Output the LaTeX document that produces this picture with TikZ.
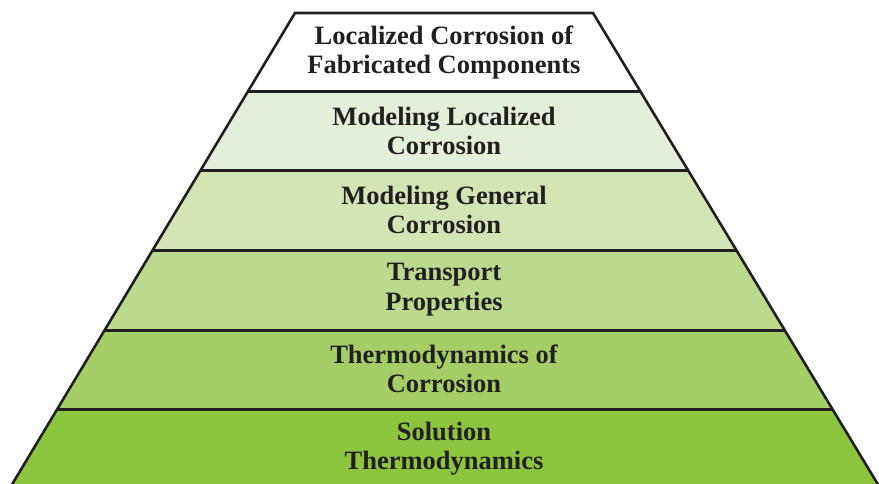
\documentclass[tikz,border=0pt]{standalone}
\usepackage{fontspec}
\setmainfont{Liberation Serif}
\definecolor{txt}{RGB}{35,31,32}
\definecolor{edge}{RGB}{35,31,32}
\definecolor{bandA}{RGB}{255,255,255}
\definecolor{bandB}{RGB}{227,239,216}
\definecolor{bandC}{RGB}{211,229,180}
\definecolor{bandD}{RGB}{187,218,141}
\definecolor{bandE}{RGB}{164,207,102}
\definecolor{bandF}{RGB}{140,198,63}
\tikzset{
  lbl/.style={align=center, text=txt, font=\fontsize{26.5}{29.5}\selectfont\bfseries, inner sep=0pt},
  sep/.style={draw=edge, line width=3pt},
  side/.style={draw=edge, line width=2.6pt, line cap=butt}
}
\begin{document}
\begin{tikzpicture}[x=1pt,y=-1pt]
\useasboundingbox (0,0) rectangle (879,484);
% bands
\fill[bandA] (295,13) -- (593,13) -- (640.8,92) -- (247.5,92) -- cycle;
\fill[bandB] (247.5,92) -- (640.8,92) -- (688.6,171) -- (200,171) -- cycle;
\fill[bandC] (200,171) -- (688.6,171) -- (736.4,250) -- (152.6,250) -- cycle;
\fill[bandD] (152.6,250) -- (736.4,250) -- (784.8,330) -- (104.5,330) -- cycle;
\fill[bandE] (104.5,330) -- (784.8,330) -- (832.6,409) -- (57,409) -- cycle;
\fill[bandF] (57,409) -- (832.6,409) -- (879.5,487) -- (10.5,487) -- cycle;
% separators
\draw[sep] (247.5,92) -- (640.8,92);
\draw[sep] (200,171) -- (688.6,171);
\draw[sep] (152.6,250) -- (736.4,250);
\draw[sep] (104.5,330) -- (784.8,330);
\draw[sep] (57,409) -- (832.6,409);
% outline
\draw[side, line join=miter] (10.5,487) -- (295,13) -- (593,13) -- (879.5,487);
% labels
\node[lbl] (l1) at (444,52.5) {Localized Corrosion of\\Fabricated Components};
\node[lbl] (l2) at (444,131) {Modeling Localized\\Corrosion};
\node[lbl] (l3) at (444,210) {Modeling General\\Corrosion};
\node[lbl] (l4) at (444,289.5) {Transport\\Properties};
\node[lbl] (l5) at (444,369) {Thermodynamics of\\Corrosion};
\node[lbl] (l6) at (444,448.5) {Solution\\Thermodynamics};
\end{tikzpicture}
\end{document}
